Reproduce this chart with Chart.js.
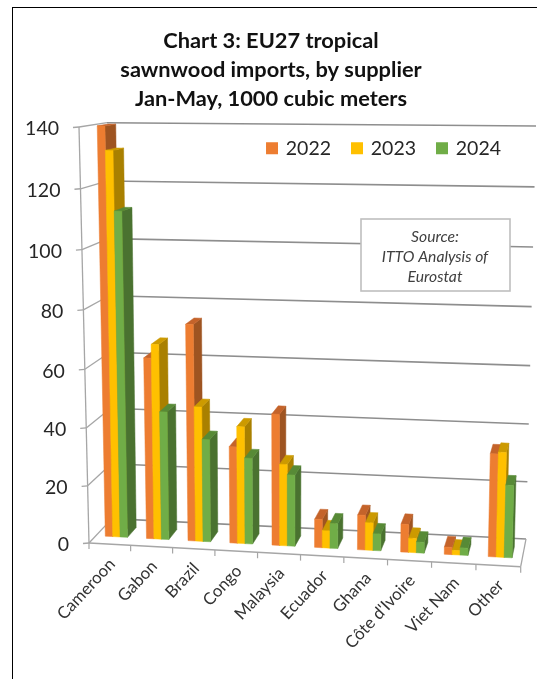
<!DOCTYPE html>
<html>
<head>
<meta charset="utf-8">
<title>Chart 3</title>
<script src="https://cdn.jsdelivr.net/npm/chart.js@4"></script>
<style>
body{margin:0;background:#fff;}
#frame{position:fixed;left:12px;top:7px;right:0;bottom:0;border-left:1px solid #000;border-top:1px solid #000;}
#myChart{position:absolute;left:0;top:0;}
</style>
</head>
<body>
<div id="frame"></div>
<canvas id="myChart" width="537" height="679"></canvas>
<script>
let suppliers=['Cameroon','Gabon','Brazil','Congo','Malaysia','Ecuador','Ghana',"Côte d'Ivoire",'Viet Nam','Other'];
let values2022=[140,62.8,74.7,33.5,45.3,9.8,12,9.6,2.5,35];
let values2023=[132,67.5,46.7,40.5,28.2,6,9.5,4.9,1.5,35.6];
let values2024=[112,44.5,35.6,29.8,24.7,8.6,5.8,3.7,2.5,24.6];
let yearNames=['2022','2023','2024'];
let yearColors=['#ED7D31','#FFC000','#70AD47'];
let sideColors=['#9E5421','#A98000','#4A7230'];
let topColors=['#C4632A','#CC9A00','#578A36'];
let titleLines=['Chart 3: EU27 tropical','sawnwood imports, by supplier','Jan-May, 1000 cubic meters'];
let sourceLines=['Source:','ITTO Analysis of','Eurostat'];

// where the corners of the 3d box land on the page
let frontPlane=[[89,543],[520.7,566.7],[531,134],[79,127]];
let backPlane=[[112,518.6],[526,539],[536,126],[107,122.7]];
let barFront=0.3;
let barBack=0.7;

function makeQuadMap(q){
    let dx1=q[1][0]-q[2][0], dx2=q[3][0]-q[2][0], sx=q[0][0]-q[1][0]+q[2][0]-q[3][0];
    let dy1=q[1][1]-q[2][1], dy2=q[3][1]-q[2][1], sy=q[0][1]-q[1][1]+q[2][1]-q[3][1];
    let den=dx1*dy2-dx2*dy1;
    let g=(sx*dy2-dx2*sy)/den;
    let h=(dx1*sy-sx*dy1)/den;
    let a=q[1][0]-q[0][0]+g*q[1][0];
    let b=q[3][0]-q[0][0]+h*q[3][0];
    let d=q[1][1]-q[0][1]+g*q[1][1];
    let e=q[3][1]-q[0][1]+h*q[3][1];
    return function(u,v){
        let w=g*u+h*v+1;
        return [(a*u+b*v+q[0][0])/w,(d*u+e*v+q[0][1])/w];
    };
}
let frontMap=makeQuadMap(frontPlane);
let backMap=makeQuadMap(backPlane);

// u along the categories, depth from front to back, v up the value axis
function project(u,depth,v){
    let f=frontMap(u,v);
    let b=backMap(u,v);
    return [f[0]+(b[0]-f[0])*depth,f[1]+(b[1]-f[1])*depth];
}

function line(ctx,p1,p2,color,width){
    ctx.strokeStyle=color;
    ctx.lineWidth=width;
    ctx.beginPath();
    ctx.moveTo(p1[0],p1[1]);
    ctx.lineTo(p2[0],p2[1]);
    ctx.stroke();
}

function fillFace(ctx,points,color){
    ctx.fillStyle=color;
    ctx.strokeStyle=color;
    ctx.lineWidth=0.5;
    ctx.beginPath();
    ctx.moveTo(points[0][0],points[0][1]);
    for(let i=1;i<points.length;i++){
        ctx.lineTo(points[i][0],points[i][1]);
    }
    ctx.closePath();
    ctx.fill();
    ctx.stroke();
}

let box3d={
    id:'box3d',
    beforeDatasetsDraw(chart){
        let ctx=chart.ctx;
        let area=chart.chartArea;
        let xScale=chart.scales.x;
        let yScale=chart.scales.y;
        let toU=function(px){return (px-area.left)/(area.right-area.left);};
        let toV=function(py){return (area.bottom-py)/(area.bottom-area.top);};
        let step=1/suppliers.length;

        ctx.save();
        // walls and floor
        yScale.ticks.forEach(function(tick){
            let v=toV(yScale.getPixelForValue(tick.value));
            let corner=project(0,0,v);
            line(ctx,project(0,1,v),project(1,1,v),'#8E8E8E',1.6);
            line(ctx,corner,project(0,1,v),'#A6A6A6',1.3);
            line(ctx,[corner[0]-6,corner[1]+0.5],corner,'#A6A6A6',1.3);
            ctx.fillStyle='#262626';
            ctx.font='19.5px Lato';
            ctx.textAlign='right';
            ctx.textBaseline='middle';
            ctx.fillText(tick.label,corner[0]-20,corner[1]+2);
        });
        line(ctx,project(0,0,0),project(0,0,1),'#A6A6A6',1.3);
        line(ctx,project(0,0,0),project(1,0,0),'#A6A6A6',1.6);
        line(ctx,project(1,0,0),project(1,1,0),'#A6A6A6',1.3);

        // category ticks and names
        for(let i=0;i<=suppliers.length;i++){
            let p=project(i*step,0,0);
            line(ctx,p,[p[0],p[1]+6],'#A6A6A6',1.2);
        }
        xScale.ticks.forEach(function(tick){
            let p=project(toU(xScale.getPixelForValue(tick.value)),0,0);
            ctx.save();
            ctx.translate(p[0]+2.5,p[1]+17);
            ctx.rotate(-47*Math.PI/180);
            ctx.fillStyle='#333';
            ctx.font='16.8px Lato';
            ctx.textAlign='right';
            ctx.textBaseline='middle';
            ctx.fillText(tick.label,0,0);
            ctx.restore();
        });

        // bars, left to right so each front hides the neighbour's side
        for(let c=0;c<suppliers.length;c++){
            for(let s=0;s<yearNames.length;s++){
                let bar=chart.getDatasetMeta(s).data[c];
                let u1=toU(bar.x-bar.width/2);
                let u2=toU(bar.x+bar.width/2);
                let v=toV(bar.y);
                let v0=toV(bar.base);
                fillFace(ctx,[project(u2,barFront,v0),project(u2,barBack,v0),project(u2,barBack,v),project(u2,barFront,v)],sideColors[s]);
                fillFace(ctx,[project(u1,barFront,v),project(u2,barFront,v),project(u2,barBack,v),project(u1,barBack,v)],topColors[s]);
                fillFace(ctx,[project(u1,barFront,v0),project(u2,barFront,v0),project(u2,barFront,v),project(u1,barFront,v)],yearColors[s]);
            }
        }

        // source note
        ctx.fillStyle='#fff';
        ctx.fillRect(361,219,149,72);
        ctx.strokeStyle='#BFBFBF';
        ctx.lineWidth=1.6;
        ctx.strokeRect(361,219,149,72);
        ctx.fillStyle='#404040';
        ctx.font='italic 15.7px Lato';
        ctx.textAlign='center';
        ctx.textBaseline='middle';
        ctx.fillText(sourceLines[0],435,237);
        ctx.fillText(sourceLines[1],435,256.5);
        ctx.fillText(sourceLines[2],435,276.5);
        ctx.restore();
        return false;
    }
};

new Chart(document.getElementById('myChart').getContext('2d'),{
    type:'bar',
    data:{
        labels:suppliers,
        datasets:[
            {label:yearNames[0],data:values2022,backgroundColor:yearColors[0],borderColor:yearColors[0],borderWidth:4},
            {label:yearNames[1],data:values2023,backgroundColor:yearColors[1],borderColor:yearColors[1],borderWidth:4},
            {label:yearNames[2],data:values2024,backgroundColor:yearColors[2],borderColor:yearColors[2],borderWidth:4}
        ]
    },
    plugins:[box3d],
    options:{
        responsive:false,
        animation:false,
        devicePixelRatio:1,
        layout:{padding:{left:19,right:14,top:0,bottom:100}},
        datasets:{bar:{categoryPercentage:0.54,barPercentage:1}},
        scales:{
            x:{display:false,ticks:{autoSkip:false}},
            y:{display:false,min:0,max:140,ticks:{stepSize:20}}
        },
        plugins:{
            tooltip:{enabled:false},
            title:{
                display:true,
                text:titleLines,
                color:'#111',
                font:{family:'Lato',size:21.8,weight:'bold',lineHeight:1.33},
                padding:{top:26,bottom:3.5}
            },
            legend:{
                position:'top',
                align:'end',
                labels:{
                    boxWidth:8,
                    boxHeight:8,
                    padding:22,
                    color:'#262626',
                    font:{family:'Lato',size:19.5}
                }
            }
        }
    }
});
</script>
</body>
</html>
